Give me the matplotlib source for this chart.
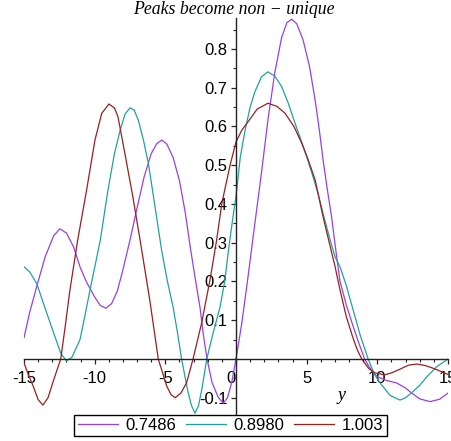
import numpy as np
import matplotlib
matplotlib.use('Agg')
import matplotlib.pyplot as plt
from matplotlib.ticker import MultipleLocator

# Data (x = y-variable, value = curve height)
x_a = [-15, -14.6, -14.1, -13.5, -12.9, -12.46, -12.0, -11.5, -11.04, -10.6,
       -10.0, -9.6, -9.2, -8.8, -8.4, -8.0, -7.5, -7.0, -6.5, -6.0,
       -5.6, -5.26, -4.9, -4.45, -4.0, -3.6, -3.2, -2.85, -2.55, -2.3,
       -2.05, -1.7, -1.27, -0.9, -0.6, -0.3, 0, 0.4, 0.85, 1.3,
       1.8, 2.27, 2.75, 3.23, 3.6, 3.94, 4.3, 4.75, 5.2, 5.6,
       5.9, 6.16, 6.45, 6.75, 7.1, 7.36, 7.8, 8.3, 8.7, 9.1,
       9.5, 9.96, 10.6, 11.37, 12.0, 12.43, 13.0, 13.73, 14.4, 15]
y_a = [0.055, 0.12, 0.187, 0.264, 0.318, 0.336, 0.325, 0.29, 0.238, 0.2,
       0.16, 0.138, 0.131, 0.143, 0.175, 0.23, 0.307, 0.39, 0.47, 0.53,
       0.556, 0.565, 0.555, 0.52, 0.46, 0.38, 0.28, 0.2, 0.134, 0.06,
       0.0, -0.06, -0.098, -0.114, -0.1, -0.06, 0.0, 0.09, 0.212, 0.34,
       0.48, 0.62, 0.74, 0.83, 0.868, 0.877, 0.865, 0.823, 0.755, 0.668,
       0.59, 0.514, 0.44, 0.37, 0.27, 0.2, 0.14, 0.083, 0.04, 0.0,
       -0.025, -0.045, -0.055, -0.062, -0.075, -0.088, -0.103, -0.11, -0.104, -0.088]

x_b = [-15, -14.6, -14.1, -13.5, -12.9, -12.4, -12.0, -11.6, -11.04, -10.7,
       -10.33, -9.95, -9.6, -9.06, -8.6, -8.2, -7.85, -7.5, -7.2, -6.9,
       -6.55, -6.2, -5.73, -5.26, -4.85, -4.45, -4.15, -3.85, -3.4, -3.15,
       -2.9, -2.65, -2.4, -2.07, -1.6, -1.13, -0.8, -0.5, -0.2, 0,
       0.3, 0.64, 1.0, 1.34, 1.8, 2.26, 2.75, 3.23, 3.7, 4.18,
       4.6, 5.0, 5.4, 5.8, 6.2, 6.6, 7.0, 7.36, 7.8, 8.3,
       8.8, 9.35, 9.8, 10.2, 10.9, 11.6, 12.0, 12.4, 13.0, 13.5,
       14.2, 15]
y_b = [0.238, 0.225, 0.195, 0.13, 0.067, 0.015, -0.005, 0.005, 0.05, 0.11,
       0.178, 0.245, 0.307, 0.436, 0.53, 0.59, 0.632, 0.648, 0.642, 0.615,
       0.565, 0.505, 0.393, 0.28, 0.2, 0.134, 0.07, 0.0, -0.085, -0.12,
       -0.14, -0.12, -0.075, 0.0, 0.07, 0.134, 0.2, 0.29, 0.37, 0.42,
       0.52, 0.59, 0.65, 0.69, 0.728, 0.741, 0.73, 0.703, 0.66, 0.608,
       0.565, 0.522, 0.476, 0.428, 0.37, 0.315, 0.264, 0.238, 0.19, 0.125,
       0.06, 0.0, -0.04, -0.062, -0.094, -0.106, -0.1, -0.088, -0.068, -0.046,
       -0.02, 0.0]

x_c = [-15, -14.7, -14.34, -14.0, -13.66, -13.3, -12.9, -12.4, -12.1, -11.75,
       -11.2, -10.57, -9.98, -9.5, -8.99, -8.6, -8.35, -7.86, -7.3, -6.8,
       -6.1, -5.5, -4.9, -4.6, -4.3, -3.9, -3.5, -3.04, -2.43, -1.84,
       -1.37, -1.0, -0.42, 0, 0.4, 0.85, 1.5, 2.26, 2.9, 3.47,
       4.1, 4.65, 5.1, 5.6, 6.16, 6.6, 7.0, 7.36, 7.8, 8.28,
       8.6, 8.9, 9.4, 9.84, 10.5, 11.0, 11.5, 12.2, 12.8, 13.4,
       13.95, 14.5, 15]
y_c = [-0.01, -0.04, -0.071, -0.105, -0.119, -0.1, -0.054, 0.0, 0.08, 0.178,
       0.307, 0.436, 0.565, 0.634, 0.658, 0.648, 0.625, 0.53, 0.419, 0.31,
       0.152, 0.0, -0.07, -0.092, -0.1, -0.088, -0.062, 0.0, 0.093, 0.204,
       0.307, 0.402, 0.5, 0.56, 0.59, 0.612, 0.645, 0.66, 0.652, 0.634,
       0.6, 0.557, 0.515, 0.462, 0.367, 0.3, 0.24, 0.178, 0.11, 0.054,
       0.022, 0.0, -0.025, -0.036, -0.041, -0.036, -0.028, -0.016, -0.013, -0.017,
       -0.024, -0.032, -0.04]

labels = ['0.7486', '0.8980', '1.003']
colors = ['#9b3ee6', '#1fa3a0', '#9a1f1f']

xticks = [-15, -10, -5, 0, 5, 10, 15]
xtick_labels = ['-15', '-10', '-5', '0', '5', '10', '15']
yticks = [-0.1, 0.1, 0.2, 0.3, 0.4, 0.5, 0.6, 0.7, 0.8]
ytick_labels = ['-0.1', '0.1', '0.2', '0.3', '0.4', '0.5', '0.6', '0.7', '0.8']

plt.rcParams['font.family'] = ['Liberation Sans', 'DejaVu Sans']

fig = plt.figure(figsize=(4.51, 4.41), dpi=100)
ax = fig.add_axes([24/451, 1 - 414/441, 424/451, 396/441])

for xs, ys, lab, col in zip([x_a, x_b, x_c], [y_a, y_b, y_c], labels, colors):
    ax.plot(xs, ys, color=col, linewidth=0.9, label=lab)

ax.set_xlim(-15, 15)
ax.set_ylim(-0.142, 0.88)

# axes cross at the origin
ax.spines['left'].set_position(('data', 0))
ax.spines['bottom'].set_position(('data', 0))
ax.spines['top'].set_visible(False)
ax.spines['right'].set_visible(False)
for s in ['left', 'bottom']:
    ax.spines[s].set_linewidth(1.0)
    ax.spines[s].set_color('#222222')

ax.set_xticks(xticks, labels=xtick_labels)
ax.set_yticks(yticks, labels=ytick_labels)
ax.xaxis.set_minor_locator(MultipleLocator(1))
ax.yaxis.set_minor_locator(MultipleLocator(0.05))
ax.tick_params(axis='both', which='major', direction='out', length=3.5,
               width=0.9, labelsize=12, color='#222222')
ax.tick_params(axis='both', which='minor', direction='out', length=2.5,
               width=0.8, color='#222222')
ax.tick_params(axis='x', pad=5)
ax.tick_params(axis='y', pad=2.5)
for lbl in ax.get_xticklabels():
    if lbl.get_text() == '0':
        lbl.set_ha('right')

ax.text(7.5, -0.093, 'y', fontsize=13, style='italic',
        family='Liberation Serif', ha='center', va='center')

fig.text(234/451, 1 - 10/441, 'Peaks become non \u2212 unique', fontsize=12.8,
         style='italic', family='Liberation Serif', ha='center', va='center')

leg = fig.legend(loc='center', bbox_to_anchor=(230.5/451, 1 - 425.5/441),
                 ncol=3, fontsize=12, frameon=True, fancybox=False,
                 edgecolor='black', framealpha=1, handlelength=2.4,
                 handletextpad=0.45, columnspacing=0.6, borderpad=0.2,
                 borderaxespad=0)
leg.get_frame().set_linewidth(1.0)

fig.savefig('out.png', dpi=100)
